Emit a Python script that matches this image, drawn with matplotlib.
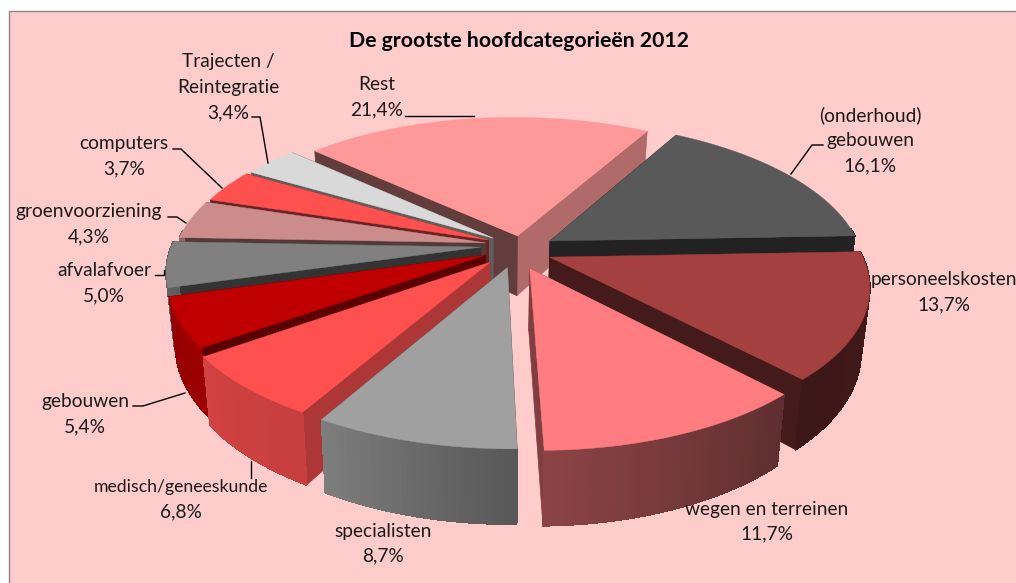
import numpy as np
import matplotlib
from matplotlib import pyplot as plt
from matplotlib.colors import to_rgb

matplotlib.rcParams['font.family'] = 'Lato'

title = 'De grootste hoofdcategorieën 2012'
categories = [['(onderhoud)', 'gebouwen'], ['personeelskosten'], ['wegen en terreinen'], ['specialisten'],
              ['medisch/geneeskunde'], ['gebouwen'], ['afvalafvoer'], ['groenvoorziening'], ['computers'],
              ['Trajecten /', 'Reintegratie'], ['Rest']]
values = [16.1, 13.7, 11.7, 8.7, 6.8, 5.4, 5.0, 4.3, 3.7, 3.4, 21.4]
colors = ['#595959', '#A54040', '#FF7C80', '#A0A0A0', '#FF5050', '#C00000', '#808080', '#CC8C8C', '#FF5050',
          '#D9D9D9', '#FF9999']

# how far each slice is pulled out of the pie, in disc units (sideways, towards the viewer)
explode_u = [0.195, 0.19, 0.125, 0.055, 0.0, -0.015, -0.03, -0.015, -0.005, 0.01, 0.09]
explode_v = [0.007, 0.12, 0.197, 0.19, 0.155, 0.106, 0.05, 0.02, 0.0, -0.014, -0.029]
# shade of the two cut faces of each slice
shade_start = [0.4, 0.4, 0.5, 0.5, 0.68, 0.47, 0.4, 0.41, 0.42, 0.44, 0.39]
shade_end = [0.38, 0.41, 0.5, 0.5, 0.5, 0.47, 0.4, 0.41, 0.42, 0.44, 0.69]
draw_order = [10, 0, 9, 8, 7, 6, 5, 1, 4, 2, 3]

# first line of each label, one line pitch apart
label_x = [870, 944, 767, 383, 181, 85, 104, 89, 124, 228, 377]
label_y = [115, 280, 509, 531, 487, 402, 271, 212, 144, 62, 85]
label_size = [13.8, 13.8, 13.8, 13.8, 12.7, 13.8, 13.8, 13.8, 13.8, 13.8, 13.8]
leaders = [([823, 812, 791], [145, 145, 174]),
           ([133, 143, 185], [406, 406, 393]),
           ([251, 251], [461, 478]),
           ([155, 164, 164], [275, 275, 270]),
           ([168, 177, 186], [217, 217, 223]),
           ([173, 181, 222], [149, 149, 188]),
           ([252, 260, 268], [117, 117, 163]),
           ([405, 474], [116, 116])]

cx, cy = 490, 240
R, A, H = 307, 140, 60
persp = 0.17
start_angle = 30


def project(u, v, bottom=False):
    s = 1 / (1 - persp * v)
    x = cx + R * u * s
    y = cy + A * v * s
    if bottom:
        x = cx + (x - cx) * 0.977
        y = y + H * s
    return x, y


def wall_shade(theta):
    return np.interp(theta % 360, [0, 90, 137, 180, 210, 235, 270, 360],
                     [0.4, 0.4, 0.37, 0.55, 0.78, 0.82, 0.73, 0.4])


def shaded(color, factor):
    return tuple(c * factor for c in to_rgb(color))


def draw_cut(ax, color, factor, u0, v0, theta):
    u1, v1 = u0 + np.sin(np.radians(theta)), v0 - np.cos(np.radians(theta))
    x = [project(u0, v0)[0], project(u1, v1)[0], project(u1, v1, True)[0], project(u0, v0, True)[0]]
    y = [project(u0, v0)[1], project(u1, v1)[1], project(u1, v1, True)[1], project(u0, v0, True)[1]]
    c = shaded(color, factor)
    ax.fill(x, y, color=c, linewidth=0.5)


def draw_slice(ax, i, theta0, theta1):
    u0, v0 = explode_u[i], explode_v[i]
    if (theta0 + theta1) / 2 < 180:
        draw_cut(ax, colors[i], shade_start[i], u0, v0, theta0)
        draw_cut(ax, colors[i], shade_end[i], u0, v0, theta1)
    else:
        draw_cut(ax, colors[i], shade_end[i], u0, v0, theta1)
        draw_cut(ax, colors[i], shade_start[i], u0, v0, theta0)

    arc = np.arange(theta0, theta1, 1.0)
    arc = np.append(arc, theta1)
    u = u0 + np.sin(np.radians(arc))
    v = v0 - np.cos(np.radians(arc))
    xt, yt = project(u, v)
    xb, yb = project(u, v, True)
    for j in range(len(arc) - 1):
        mid = (arc[j] + arc[j + 1]) / 2
        if mid < 85 or mid > 275:
            continue  # faces away from the viewer
        c = shaded(colors[i], wall_shade(mid))
        ax.fill([xt[j], xt[j + 1], xb[j + 1], xb[j]], [yt[j], yt[j + 1], yb[j + 1], yb[j]], color=c, linewidth=0.6,
                antialiased=False)

    x0, y0 = project(u0, v0)
    ax.fill(np.r_[x0, xt], np.r_[y0, yt], color=colors[i], linewidth=0.3)


fig = plt.figure(figsize=(10.16, 5.83), dpi=100, facecolor='white')
ax = fig.add_axes([0, 0, 1, 1])
ax.set_xlim(0, 1016)
ax.set_ylim(583, 0)
ax.axis('off')

ax.fill([8.5, 1020, 1020, 8.5], [10.5, 10.5, 590, 590], facecolor='#FFCCCC', edgecolor='#868686', linewidth=1)

shares = np.array(values) / sum(values) * 360
edges = start_angle + np.r_[0, np.cumsum(shares)]
for i in draw_order:
    draw_slice(ax, i, edges[i], edges[i + 1])

for xs, ys in leaders:
    ax.plot(xs, ys, color='black', linewidth=1, solid_joinstyle='miter')

ax.text(519, 41, title, ha='center', va='center', fontsize=15.3, fontweight='bold', color='black')
for i in range(len(values)):
    lines = categories[i] + [f'{values[i]:.1f}%'.replace('.', ',')]
    for n, line in enumerate(lines):
        size = label_size[i] if n < len(lines) - 1 else 13.8
        ax.text(label_x[i], label_y[i] + n * 25.3, line, ha='center', va='center', fontsize=size, color='#1a1a1a')

plt.savefig('out.png', dpi=100)
plt.close()
